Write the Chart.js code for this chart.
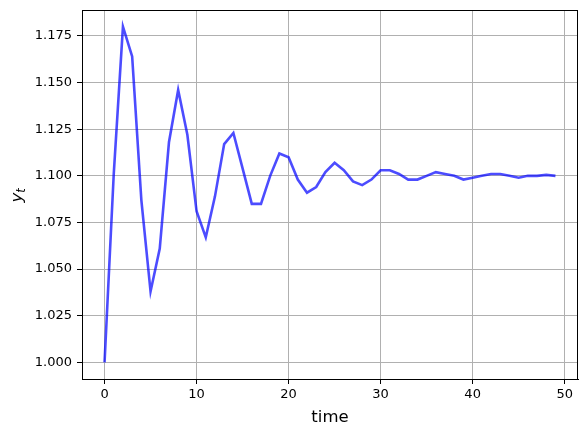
<!DOCTYPE html>
<html>
<head>
<meta charset="utf-8">
<script src="https://cdn.jsdelivr.net/npm/chart.js@4.4.1/dist/chart.umd.min.js"></script>
<style>
  html, body { margin: 0; padding: 0; background: #fff; }
  #wrap { width: 587px; height: 435px; }
</style>
</head>
<body>
<div id="wrap"><canvas id="ytChart" width="587" height="435"></canvas></div>
<script>
// data
const timeSteps = [0, 1, 2, 3, 4, 5, 6, 7, 8, 9,
  10, 11, 12, 13, 14, 15, 16, 17, 18, 19,
  20, 21, 22, 23, 24, 25, 26, 27, 28, 29,
  30, 31, 32, 33, 34, 35, 36, 37, 38, 39,
  40, 41, 42, 43, 44, 45, 46, 47, 48, 49];
const yValues = [1.000, 1.101, 1.180, 1.164, 1.087, 1.038, 1.061, 1.118, 1.146, 1.122,
  1.081, 1.067, 1.089, 1.117, 1.123, 1.104, 1.085, 1.085, 1.100, 1.112,
  1.110, 1.098, 1.091, 1.094, 1.102, 1.107, 1.103, 1.097, 1.095, 1.098,
  1.103, 1.103, 1.101, 1.098, 1.098, 1.100, 1.102, 1.101, 1.100, 1.098,
  1.099, 1.100, 1.101, 1.101, 1.100, 1.099, 1.100, 1.100, 1.1005, 1.100];
const xTicks = [0, 10, 20, 30, 40, 50];
const yTicks = [1.000, 1.025, 1.050, 1.075, 1.100, 1.125, 1.150, 1.175];

const FONT = "'DejaVu Sans', sans-serif";

// frame on all four sides + axis titles (y label has a subscript)
const framePlugin = {
  id: 'frame',
  afterDraw(chart) {
    const { ctx, chartArea: a } = chart;
    ctx.save();
    ctx.strokeStyle = '#000';
    ctx.lineWidth = 1;
    ctx.strokeRect(Math.round(a.left) + 0.5, Math.round(a.top) + 0.5,
      Math.round(a.right - a.left) - 1, Math.round(a.bottom - a.top));

    ctx.fillStyle = '#000';
    ctx.font = '16.5px ' + FONT;
    ctx.textAlign = 'center';
    ctx.textBaseline = 'alphabetic';
    ctx.fillText('time', (a.left + a.right) / 2, 422);

    ctx.translate(22, (a.top + a.bottom) / 2);
    ctx.rotate(-Math.PI / 2);
    ctx.textAlign = 'left';
    ctx.font = 'italic 16.5px ' + FONT;
    const yw = ctx.measureText('y').width;
    ctx.fillText('y', -8, 0);
    ctx.font = 'italic 11.5px ' + FONT;
    ctx.fillText('t', -8 + yw, 3);
    ctx.restore();
  }
};

function initChart() {
  const ctx = document.getElementById('ytChart').getContext('2d');
  new Chart(ctx, {
    type: 'line',
    data: {
      datasets: [{
        data: timeSteps.map((t, i) => ({ x: t, y: yValues[i] })),
        borderColor: 'rgba(0, 0, 255, 0.7)',
        borderWidth: 2.6,
        pointRadius: 0,
        tension: 0,
        fill: false
      }]
    },
    options: {
      responsive: false,
      animation: false,
      devicePixelRatio: 1,
      layout: { autoPadding: false, padding: { top: 10, right: 9, left: 0, bottom: 0 } },
      plugins: {
        legend: { display: false },
        tooltip: { enabled: false }
      },
      scales: {
        x: {
          type: 'linear',
          min: -2.45,
          max: 51.45,
          afterBuildTicks: s => { s.ticks = xTicks.map(v => ({ value: v })); },
          afterFit: s => { s.height = 56; s.paddingLeft = 0; s.paddingRight = 0; },
          grid: { color: '#b0b0b0', lineWidth: 1, tickColor: '#000', tickLength: 5 },
          border: { color: '#000', width: 1 },
          ticks: {
            color: '#000',
            padding: 3,
            maxRotation: 0,
            font: { family: FONT, size: 13 },
            callback: v => String(v)
          }
        },
        y: {
          min: 0.9911,
          max: 1.1889,
          afterBuildTicks: s => { s.ticks = yTicks.map(v => ({ value: v })); },
          afterFit: s => { s.width = 82; s.paddingTop = 0; s.paddingBottom = 0; },
          grid: { color: '#b0b0b0', lineWidth: 1, tickColor: '#000', tickLength: 5 },
          border: { color: '#000', width: 1 },
          ticks: {
            color: '#000',
            padding: 5,
            font: { family: FONT, size: 13 },
            callback: v => Number(v).toFixed(3)
          }
        }
      }
    },
    plugins: [framePlugin]
  });
}

initChart();
</script>
</body>
</html>
